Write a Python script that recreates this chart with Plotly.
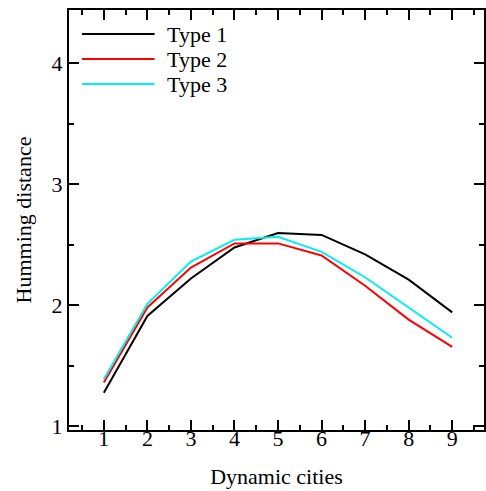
import plotly.graph_objects as go

cities = [1, 2, 3, 4, 5, 6, 7, 8, 9]
type1 = [1.275, 1.91, 2.22, 2.476, 2.595, 2.58, 2.42, 2.21, 1.94]
type2 = [1.36, 1.98, 2.31, 2.51, 2.51, 2.41, 2.16, 1.88, 1.655]
type3 = [1.386, 2.01, 2.36, 2.54, 2.565, 2.44, 2.23, 1.98, 1.73]
names = ["Type 1", "Type 2", "Type 3"]
colors = ["#000000", "#ff0000", "#00f0f0"]

FONT = "Liberation Serif, Times New Roman, serif"
FS = 22
XRANGE = [0.2, 9.73]

fig = go.Figure()
for name, ys, c in zip(names, [type1, type2, type3], colors):
    fig.add_trace(go.Scatter(x=cities, y=ys, mode="lines", name=name,
                             line=dict(color=c, width=2), showlegend=False))
# invisible carrier trace so the label axis (x2) is drawn
fig.add_trace(go.Scatter(x=cities, y=type1, xaxis="x2", yaxis="y", mode="lines",
                         line=dict(width=0), opacity=0, showlegend=False,
                         hoverinfo="skip"))

# manual legend
for i, (name, c) in enumerate(zip(names, colors)):
    yp = 34 + 25 * i
    fig.add_shape(type="line", xref="paper", yref="paper",
                  x0=(82 - 69) / 417, x1=(155 - 69) / 417,
                  y0=1 - (yp - 10) / 420, y1=1 - (yp - 10) / 420,
                  line=dict(color=c, width=2))
    fig.add_annotation(xref="paper", yref="paper", x=(165 - 69) / 417,
                       y=1 - (yp - 10) / 420, text=name, showarrow=False,
                       xanchor="left", yanchor="middle",
                       font=dict(family=FONT, size=FS, color="black"))

fig.update_layout(
    width=486, height=491,
    margin=dict(l=69, r=0, t=10, b=61),
    plot_bgcolor="white", paper_bgcolor="white",
    font=dict(family=FONT, size=FS, color="black"),
    xaxis=dict(
        range=XRANGE, tickmode="linear", tick0=1, dtick=1,
        ticks="inside", ticklen=10, tickwidth=1.5, tickcolor="black",
        showline=True, linewidth=2, linecolor="black", mirror="allticks",
        showgrid=False, zeroline=False, showticklabels=False,
        minor=dict(dtick=0.5, tick0=0.5, ticks="inside", ticklen=5, tickwidth=1.5,
                   tickcolor="black", showgrid=False),
    ),
    xaxis2=dict(
        overlaying="x", anchor="free", position=7 / 420, side="bottom",
        range=XRANGE, tickmode="linear", tick0=1, dtick=1,
        ticks="", showline=False, showgrid=False, zeroline=False,
        showticklabels=True, tickfont=dict(family=FONT, size=FS, color="black"),
        title=dict(text="Dynamic cities", font=dict(family=FONT, size=FS, color="black"), standoff=18),
    ),
    yaxis=dict(
        range=[0.967, 4.44], tickmode="linear", tick0=1, dtick=1,
        ticks="inside", ticklen=10, tickwidth=1.5, tickcolor="black",
        showline=True, linewidth=2, linecolor="black", mirror="ticks",
        showgrid=False, zeroline=False,
        minor=dict(dtick=0.5, tick0=0.5, ticks="inside", ticklen=5, tickwidth=1.5,
                   tickcolor="black", showgrid=False),
        title=dict(text="Humming distance", font=dict(family=FONT, size=FS), standoff=14),
    ),
)

fig.write_html("out.html", config={"displayModeBar": False},
               post_script="document.body.style.margin='0';document.body.style.overflow='hidden';")
